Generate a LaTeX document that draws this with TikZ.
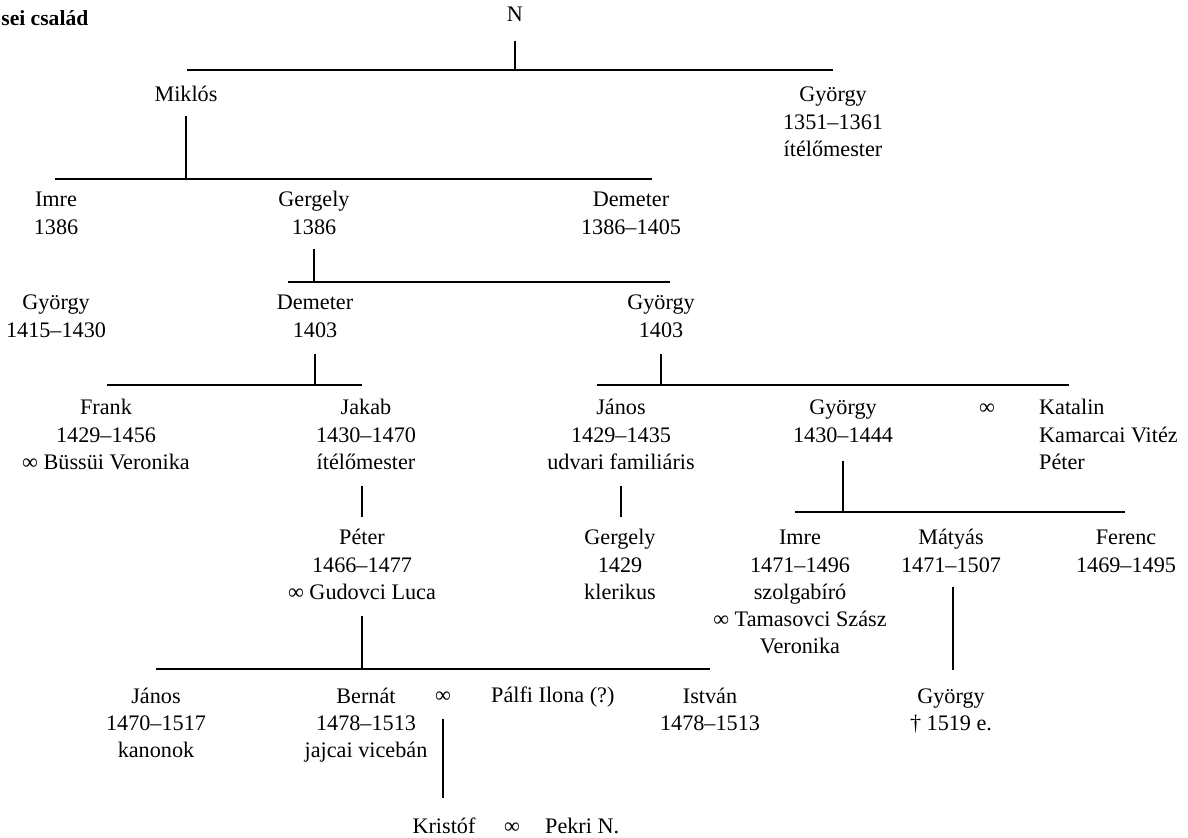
\documentclass[tikz,border=0pt]{standalone}
\usepackage{fontspec}
\setmainfont{Liberation Serif}
\tikzset{every picture/.style={line width=0.65pt}}
\tikzset{
  kin/.style={anchor=base, inner sep=0.75pt, align=center, font=\fontsize{11.1}{13.6}\selectfont},
  kinl/.style={kin, anchor=base west, align=left},
  drop/.style={shorten <=7pt}
}

\begin{document}
\begin{tikzpicture}[x=0.5pt,y=0.5pt,yscale=-1,xscale=1]
\useasboundingbox (0,0) rectangle (1188,838);
% Text Node (placed at the baseline of the last line)
\draw (89,26) node [kin, anchor=base east, inner sep=0pt, font=\fontsize{10.8}{13.6}\selectfont\bfseries] (title) {sei család};
% Text Node
\draw (515,22) node [kin] (n) {N};
% Text Node
\draw (186,102) node [kin] (miklos) {Miklós};
% Text Node
\draw (833,156.4) node [kin] (gyorgyA) {György\\1351–1361\\ítélőmester};
% Text Node
\draw (56,234.2) node [kin] (imreA) {Imre\\1386};
% Text Node
\draw (314,234.2) node [kin] (gergelyA) {Gergely\\1386};
% Text Node
\draw (631,234.2) node [kin] (demeterA) {Demeter\\1386–1405};
% Text Node
\draw (56,337.2) node [kin] (gyorgyB) {György\\1415–1430};
% Text Node
\draw (315,337.2) node [kin] (demeterB) {Demeter\\1403};
% Text Node
\draw (661,337.2) node [kin] (gyorgyC) {György\\1403};
% Text Node
\draw (106,469.4) node [kin] (frank) {Frank\\1429–1456\\∞ Büssüi Veronika};
% Text Node
\draw (366,469.4) node [kin] (jakab) {Jakab\\1430–1470\\ítélőmester};
% Text Node
\draw (621,469.4) node [kin] (janosA) {János\\1429–1435\\udvari familiáris};
% Text Node
\draw (843,442.2) node [kin] (gyorgyD) {György\\1430–1444};
% Text Node
\draw (987,415) node [kin] (marA) {∞};
% Text Node
\draw (1037,469.4) node [kinl] (katalin) {Katalin\\Kamarcai Vitéz\\Péter};
% Text Node
\draw (362,599.4) node [kin] (peter) {Péter\\1466–1477\\∞ Gudovci Luca};
% Text Node
\draw (620,599.4) node [kin] (gergelyB) {Gergely\\1429\\klerikus};
% Text Node
\draw (800,653.8) node [kin] (imreB) {Imre\\1471–1496\\szolgabíró\\∞ Tamasovci Szász\\Veronika};
% Text Node
\draw (951,572.2) node [kin] (matyas) {Mátyás\\1471–1507};
% Text Node
\draw (1126,572.2) node [kin] (ferenc) {Ferenc\\1469–1495};
% Text Node
\draw (156,757.4) node [kin] (janosB) {János\\1470–1517\\kanonok};
% Text Node
\draw (366,757.4) node [kin] (bernat) {Bernát\\1478–1513\\jajcai vicebán};
% Text Node
\draw (443,703) node [kin] (marB) {∞};
% Text Node
\draw (489,703) node [kinl] (palfi) {Pálfi Ilona (?)};
% Text Node
\draw (710,730.2) node [kin] (istvan) {István\\1478–1513};
% Text Node
\draw (951,730.2) node [kin] (gyorgyE) {György\\† 1519 e.};
% Text Node
\draw (444,833) node [kin] (kristof) {Kristóf};
% Text Node
\draw (512,833) node [kin] (marC) {∞};
% Text Node
\draw (543,833) node [kinl] (pekri) {Pekri N.};

%Straight Lines
\coordinate (barAl) at (187,70);  \coordinate (barAr) at (833,70);
\coordinate (barBl) at (55,179);  \coordinate (barBr) at (652,179);
\coordinate (barCl) at (288,282); \coordinate (barCr) at (670,282);
\coordinate (barDl) at (107,385); \coordinate (barDr) at (362,385);
\coordinate (barEl) at (597,385); \coordinate (barEr) at (1069,385);
\coordinate (barFl) at (795,512); \coordinate (barFr) at (1125,512);
\coordinate (barGl) at (156,669); \coordinate (barGr) at (710,669);
\draw (barAl) -- (barAr);
\draw (barBl) -- (barBr);
\draw (barCl) -- (barCr);
\draw (barDl) -- (barDr);
\draw (barEl) -- (barEr);
\draw (barFl) -- (barFr);
\draw (barGl) -- (barGr);
%Straight Lines
\draw [drop, shorten <=8.5pt] (n.south) -- (n.south |- barAl);
\draw [drop, shorten <=6pt] (miklos.south) -- (miklos.south |- barBl);
\draw [drop, shorten <=6pt] (gergelyA.south) -- (gergelyA.south |- barCl);
\draw [drop] (demeterB.south) -- (demeterB.south |- barDl);
\draw [drop] (gyorgyC.south) -- (gyorgyC.south |- barEl);
\draw [drop, shorten <=8pt] (gyorgyD.south) -- (gyorgyD.south |- barFl);
\draw [drop] (peter.south) -- (peter.south |- barGl);
\draw [drop, shorten >=5pt] ([xshift=-2pt]jakab.south) -- ([xshift=-2pt]jakab.south |- peter.north);
\draw [drop, shorten >=5pt] (janosA.south) -- (janosA.south |- gergelyB.north);
\draw [drop, shorten <=6pt, shorten >=8pt] ([xshift=1pt]matyas.south) -- ([xshift=1pt]matyas.south |- gyorgyE.north);
\draw [drop, shorten >=8.5pt] (marB.south) -- (marB.south |- kristof.north);
\end{tikzpicture}
\end{document}
